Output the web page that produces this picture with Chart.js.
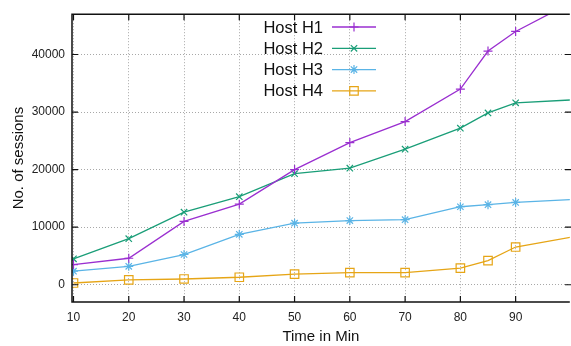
<!DOCTYPE html>
<html>
<head>
<meta charset="utf-8">
<script src="https://cdn.jsdelivr.net/npm/chart.js@4"></script>
<style>
  html, body { margin: 0; padding: 0; background: #fff; overflow: hidden; }
  canvas { display: block; }
</style>
</head>
<body>
<canvas id="myChart" width="577" height="346"></canvas>
<script>
const xValues = [10, 20, 30, 40, 50, 60, 70, 80, 85, 90, 100];
const hostH1 = [3500, 4600, 11000, 14000, 20000, 24700, 28350, 34000, 40600, 44000, 49000];
const hostH2 = [4500, 8000, 12600, 15300, 19300, 20250, 23550, 27200, 29850, 31600, 32100];
const hostH3 = [2350, 3200, 5250, 8750, 10700, 11150, 11300, 13550, 13900, 14300, 14800];
const hostH4 = [300, 850, 1000, 1300, 1850, 2100, 2100, 2900, 4200, 6550, 8250];
const seriesNames = ["Host H1", "Host H2", "Host H3", "Host H4"];
const xTicks = [10, 20, 30, 40, 50, 60, 70, 80, 90];
const yTicks = [0, 10000, 20000, 30000, 40000];

const colors = ["#9a2fd0", "#1a9e78", "#5ab4e6", "#e6a516"];
const styles = ["cross", "crossRot", "star", "rect"];
const radii = [4.5, 4.5, 4.5, 6];

function ds(i, values) {
  return {
    label: seriesNames[i],
    data: xValues.map((x, k) => ({x: x, y: values[k]})),
    borderColor: colors[i],
    backgroundColor: "rgba(0,0,0,0)",
    borderWidth: 1.3,
    pointStyle: styles[i],
    // the point at x=100 sits past the plot edge, its marker is cut off
    pointRadius: c => (c.parsed && c.parsed.x > 99.8 ? 0 : radii[i]),
    pointBorderWidth: 1.2,
    pointBorderColor: colors[i],
    pointBackgroundColor: "rgba(0,0,0,0)",
    tension: 0,
    clip: 0,
    fill: false
  };
}

// gnuplot style frame, inward ticks and legend
const framePlugin = {
  id: "frame",
  afterDraw(chart) {
    const ctx = chart.ctx;
    const a = chart.chartArea;
    const xs = chart.scales.x, ys = chart.scales.y;
    const rightEdge = 571;
    ctx.save();
    ctx.strokeStyle = "#111";
    ctx.lineWidth = 1.5;
    ctx.beginPath();
    ctx.moveTo(a.right, a.top);
    ctx.lineTo(a.left, a.top);
    ctx.lineTo(a.left, a.bottom);
    ctx.lineTo(a.right, a.bottom);
    ctx.stroke();
    ctx.lineWidth = 1.2;
    ctx.beginPath();
    xTicks.forEach(v => {
      const px = xs.getPixelForValue(v);
      ctx.moveTo(px, a.bottom); ctx.lineTo(px, a.bottom - 6);
      ctx.moveTo(px, a.top); ctx.lineTo(px, a.top + 6);
    });
    yTicks.forEach(v => {
      const py = ys.getPixelForValue(v);
      ctx.moveTo(a.left, py); ctx.lineTo(a.left + 6, py);
      ctx.moveTo(rightEdge, py); ctx.lineTo(rightEdge - 6, py);
    });
    ctx.stroke();

    // legend
    ctx.font = "16.5px 'Liberation Sans', Arial, sans-serif";
    ctx.textAlign = "right";
    ctx.textBaseline = "middle";
    chart.data.datasets.forEach((d, i) => {
      const y = 27 + i * 21.3;
      ctx.fillStyle = "#111";
      ctx.fillText(d.label, 323, y + 1);
      ctx.strokeStyle = d.borderColor;
      ctx.lineWidth = d.borderWidth;
      ctx.beginPath();
      ctx.moveTo(332, y); ctx.lineTo(376, y);
      ctx.stroke();
      ctx.fillStyle = "rgba(0,0,0,0)";
      ctx.lineWidth = d.pointBorderWidth;
      Chart.helpers.drawPoint(ctx, {pointStyle: d.pointStyle, radius: radii[i], rotation: 0, borderWidth: d.pointBorderWidth}, 354, y);
    });
    ctx.restore();
  }
};

const tickFont = {family: "'Liberation Sans', Arial, sans-serif", size: 12};
const gridStyle = {color: "#a8a8a8", lineWidth: 1, drawTicks: false, tickLength: 0};

new Chart("myChart", {
  type: "line",
  data: {
    datasets: [ds(0, hostH1), ds(1, hostH2), ds(2, hostH3), ds(3, hostH4)]
  },
  options: {
    responsive: false,
    animation: false,
    layout: {padding: {top: 10, right: 0, left: 0, bottom: 0}},
    plugins: {legend: {display: false}, tooltip: {enabled: false}},
    scales: {
      x: {
        type: "linear",
        min: 9.73,
        max: 99.8,
        afterBuildTicks: s => { s.ticks = xTicks.map(v => ({value: v})); },
        afterFit: s => { s.height = 44; s.paddingLeft = 0; s.paddingRight = 0; },
        grid: gridStyle,
        border: {display: false, dash: [1, 2]},
        ticks: {font: tickFont, color: "#222", padding: 8, maxRotation: 0},
        title: {display: true, text: "Time in Min", color: "#111",
                font: {family: "'Liberation Sans', Arial, sans-serif", size: 15}, padding: {top: 0, bottom: 0}}
      },
      y: {
        min: -3000,
        max: 47000,
        afterBuildTicks: s => { s.ticks = yTicks.map(v => ({value: v})); },
        afterFit: s => { s.width = 72; },
        grid: gridStyle,
        border: {display: false, dash: [1, 2]},
        ticks: {font: tickFont, color: "#222", padding: 7, callback: v => String(v)},
        title: {display: true, text: "No. of sessions", color: "#111",
                font: {family: "'Liberation Sans', Arial, sans-serif", size: 15}, padding: {top: 10, bottom: 0}}
      }
    }
  },
  plugins: [framePlugin]
});
</script>
</body>
</html>
